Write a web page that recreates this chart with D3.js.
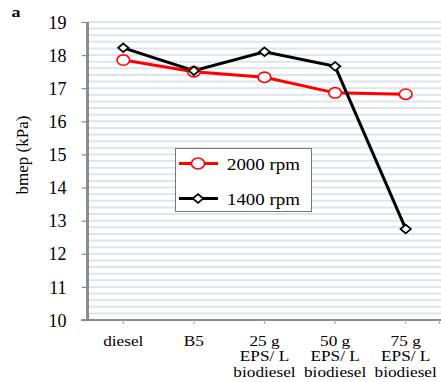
<!DOCTYPE html>
<html>
<head>
<meta charset="utf-8">
<script src="https://cdn.jsdelivr.net/npm/d3@7"></script>
<style>
  body { margin: 0; background: #fff; }
  svg text { font-family: "Liberation Serif", "Times New Roman", serif; fill: #000; }
</style>
</head>
<body>
<svg id="chart" width="441" height="382"></svg>
<script>
// Fuel blends on the x axis (multi-line labels)
const categories = ["diesel", "B5", "25 g\nEPS/ L\nbiodiesel", "50 g\nEPS/ L\nbiodiesel", "75 g\nEPS/ L\nbiodiesel"];
// Brake mean effective pressure per engine speed
const rpm2000 = [17.85, 17.5, 17.33, 16.86, 16.82];
const rpm1400 = [18.22, 17.53, 18.1, 17.66, 12.75];
const yTicks = [10, 11, 12, 13, 14, 15, 16, 17, 18, 19];
const seriesNames = ["2000 rpm", "1400 rpm"];

const svg = d3.select("#chart");
const m = { left: 88, right: 441, top: 22, bottom: 320 };
const wide = 1.15; // horizontal stretch of the label typeface

const x = d3.scaleBand().domain(categories).range([m.left, m.right]);
const y = d3.scaleLinear().domain([10, 19]).range([m.bottom, m.top]);
const cx = d => x(d) + x.bandwidth() / 2;

// Light horizontal stripes across the plot area
const minor = d3.range(10.2, 19.001, 0.2);
svg.append("g").selectAll("line").data(minor).join("line")
  .attr("x1", m.left + 1).attr("x2", m.right)
  .attr("y1", d => y(d)).attr("y2", d => y(d))
  .attr("stroke", "#dde5f1").attr("stroke-width", 2);

// Y axis
const yAxis = svg.append("g").attr("transform", `translate(${m.left - 0.5},0)`)
  .call(d3.axisLeft(y).tickValues(yTicks).tickSize(6).tickPadding(15).tickFormat(d3.format("d")));
yAxis.attr("font-family", null).attr("font-size", null);
yAxis.select(".domain").attr("stroke", "#8c8c8c").attr("stroke-width", 3)
  .attr("d", `M0,${m.top}V${m.bottom}`);
yAxis.selectAll(".tick line").attr("stroke", "#8c8c8c").attr("stroke-width", 1.2);
yAxis.selectAll(".tick text").style("font-size", "18px").attr("dy", "0.34em");

// X axis
const xAxis = svg.append("g").attr("transform", `translate(0,${m.bottom})`)
  .call(d3.axisBottom(x).tickSize(4).tickFormat(""));
xAxis.select(".domain").attr("stroke", "#8c8c8c").attr("stroke-width", 2)
  .attr("d", `M${m.left - 7},0H${m.right}`);
xAxis.selectAll(".tick line").attr("stroke", "#aaa").attr("stroke-width", 1.2);
xAxis.append("line").attr("x1", m.right - 1.5).attr("x2", m.right - 1.5).attr("y1", 0).attr("y2", 4)
  .attr("stroke", "#aaa").attr("stroke-width", 1.2);

// Category labels
svg.append("g").selectAll("text").data(categories).join("text")
  .attr("transform", d => `translate(${cx(d)},345.5) scale(${wide},1)`)
  .attr("text-anchor", "middle").style("font-size", "15px")
  .each(function (d) {
    const t = d3.select(this);
    d.split("\n").forEach((s, i) => {
      t.append("tspan").attr("x", 0).attr("dy", i === 0 ? 0 : 16).text(s);
    });
  });

// Y axis title and panel letter
svg.append("text").attr("transform", "translate(27.5,155) rotate(-90)")
  .attr("text-anchor", "middle").style("font-size", "17px").text("bmep (kPa)");
svg.append("text").attr("transform", `translate(11.5,16.5) scale(1.2,1)`)
  .style("font-size", "15px").style("font-weight", "bold").text("a");

// Lines and markers
const line = d3.line().x((d, i) => cx(categories[i])).y(d => y(d));
const diamond = d3.symbol().type(d3.symbolDiamond2).size(48);

svg.append("path").datum(rpm2000).attr("d", line)
  .attr("fill", "none").attr("stroke", "#ff0000").attr("stroke-width", 3);
svg.append("path").datum(rpm1400).attr("d", line)
  .attr("fill", "none").attr("stroke", "#000").attr("stroke-width", 3);

svg.append("g").selectAll("ellipse").data(rpm2000).join("ellipse")
  .attr("cx", (d, i) => cx(categories[i])).attr("cy", d => y(d)).attr("rx", 6.3).attr("ry", 5.2)
  .attr("fill", "#fff").attr("stroke", "#ff0000").attr("stroke-width", 1.6);
svg.append("g").selectAll("path").data(rpm1400).join("path")
  .attr("transform", (d, i) => `translate(${cx(categories[i])},${y(d)}) scale(1.2,1)`)
  .attr("d", diamond).attr("fill", "#fff").attr("stroke", "#000").attr("stroke-width", 1.6);

// Legend
const lg = svg.append("g").attr("transform", "translate(175,148)");
lg.append("rect").attr("x", 0.5).attr("y", 0.5).attr("width", 136).attr("height", 63)
  .attr("fill", "#fff").attr("stroke", "#777").attr("stroke-width", 1);
const colors = ["#ff0000", "#000"];
seriesNames.forEach((name, i) => {
  const yy = 15.5 + i * 35;
  lg.append("line").attr("x1", 4).attr("x2", 43).attr("y1", yy).attr("y2", yy)
    .attr("stroke", colors[i]).attr("stroke-width", 3);
  if (i === 0) {
    lg.append("ellipse").attr("cx", 23).attr("cy", yy).attr("rx", 6.5).attr("ry", 5.5)
      .attr("fill", "#fff").attr("stroke", colors[i]).attr("stroke-width", 1.6);
  } else {
    lg.append("path").attr("transform", `translate(23,${yy}) scale(1.2,1)`).attr("d", diamond)
      .attr("fill", "#fff").attr("stroke", "#000").attr("stroke-width", 1.6);
  }
  lg.append("text").attr("transform", `translate(52,${yy + 6}) scale(1.18,1)`)
    .style("font-size", "16px").text(name);
});
</script>
</body>
</html>
